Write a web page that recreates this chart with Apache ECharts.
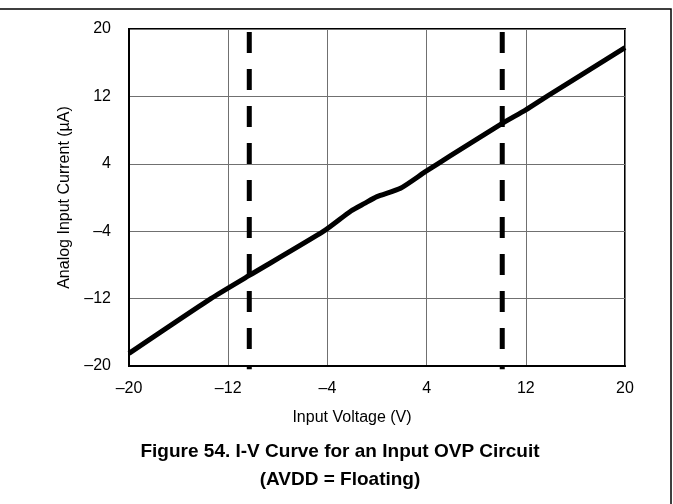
<!DOCTYPE html>
<html>
<head>
<meta charset="utf-8">
<script src="https://cdn.jsdelivr.net/npm/echarts@6/dist/echarts.min.js"></script>
<style>
  html, body { margin: 0; padding: 0; background: #fff; }
  #chart { width: 673px; height: 504px; }
</style>
</head>
<body>
<div id="chart"></div>
<script>
// I-V 曲线数据
var voltage = [-20, -13.4, -10.3, -4.3, -2.1, -1, 0, 1.9, 3.9, 5.9, 10.1, 12, 13.7, 20];
var current = [-18.5, -12, -9.25, -4, -1.6, -0.7, 0.1, 1.1, 3.06, 4.93, 8.8, 10.4, 12, 17.8];
// OVP 阈值虚线
var limitLeft = -10.3;
var limitRight = 10.1;
var dashSpan = [19.65, -20.4];

function fmt(v) {
    return v < 0 ? '–' + Math.abs(v) : String(v);
}

var curveData = voltage.map(function (v, i) { return [v, current[i]]; });

var chart = echarts.init(document.getElementById('chart'));
var font = 'Liberation Sans, Arial, sans-serif';

chart.setOption({
    animation: false,
    backgroundColor: '#fff',
    grid: {
        left: 129, top: 29, right: 48, bottom: 138,
        show: true, borderColor: '#000', borderWidth: 2
    },
    xAxis: {
        type: 'value', min: -20, max: 20, interval: 8,
        axisLine: { show: true, onZero: false, lineStyle: { color: '#000', width: 2 } },
        axisTick: { show: false },
        axisLabel: { color: '#000', fontSize: 16, fontFamily: font, margin: 15, formatter: fmt },
        splitLine: { show: true, lineStyle: { color: '#707070', width: 1 } }
    },
    yAxis: {
        type: 'value', min: -20, max: 20, interval: 8,
        name: 'Analog Input Current (µA)',
        nameLocation: 'middle', nameGap: 56,
        nameTextStyle: { color: '#000', fontSize: 16, fontFamily: font },
        axisLine: { show: true, onZero: false, lineStyle: { color: '#000', width: 2 } },
        axisTick: { show: false },
        axisLabel: { color: '#000', fontSize: 16, fontFamily: font, margin: 18, formatter: fmt },
        splitLine: { show: true, lineStyle: { color: '#707070', width: 1 } }
    },
    graphic: [
        { type: 'polyline', shape: { points: [[0, 9], [671, 9], [671, 504]] },
          style: { stroke: '#000', lineWidth: 1.5, fill: null } },
        { type: 'text', x: 352, y: 418,
          style: { text: 'Input Voltage (V)', fill: '#000', font: '16px ' + font,
                   textAlign: 'center', textVerticalAlign: 'middle' } },
        { type: 'text', x: 340, y: 452,
          style: { text: 'Figure 54. I-V Curve for an Input OVP Circuit', fill: '#000',
                   font: 'bold 19px ' + font, textAlign: 'center', textVerticalAlign: 'middle' } },
        { type: 'text', x: 340, y: 480,
          style: { text: '(AVDD = Floating)', fill: '#000',
                   font: 'bold 19px ' + font, textAlign: 'center', textVerticalAlign: 'middle' } }
    ],
    series: [
        {
            type: 'line', data: [[limitLeft, dashSpan[0]], [limitLeft, dashSpan[1]]],
            symbol: 'none', clip: false, silent: true,
            lineStyle: { color: '#000', width: 5, type: [21, 16], cap: 'butt' }
        },
        {
            type: 'line', data: [[limitRight, dashSpan[0]], [limitRight, dashSpan[1]]],
            symbol: 'none', clip: false, silent: true,
            lineStyle: { color: '#000', width: 5, type: [21, 16], cap: 'butt' }
        },
        {
            type: 'line', data: curveData, symbol: 'none', smooth: 0.2,
            lineStyle: { color: '#000', width: 5 }
        }
    ]
});
</script>
</body>
</html>
